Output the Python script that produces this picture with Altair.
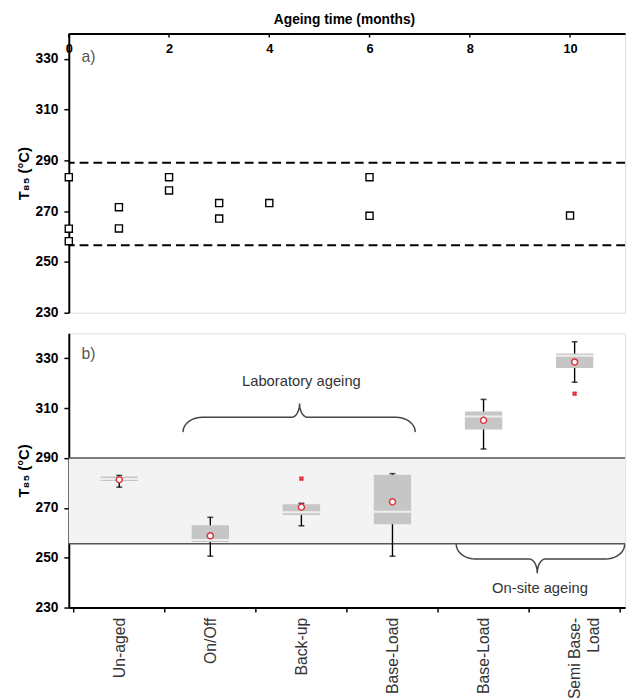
import math
import altair as alt
import pandas as pd

# ---------------- data ----------------
# panel a: T85 vs ageing time
months = [0, 0, 0, 1, 1, 2, 2, 3, 3, 4, 6, 6, 10]
t85 = [283.4, 263.1, 258.2, 271.6, 263.2, 283.4, 278.2, 273.2, 267.1, 273.2, 283.4, 268.2, 268.3]
limits_a = [289.1, 256.6]
month_ticks = [0, 2, 4, 6, 8, 10]

# panel b: box statistics per ageing type
categories = ["Un-aged", "On/Off", "Back-up", "Base-Load", "Base-Load", "Semi Base-Load"]
q1 = [280.8, 256.3, 267.1, 263.4, 301.4, 326.1]
median = [281.6, 257.1, 268.2, 268.4, 306.6, 331.0]
q3 = [282.6, 263.0, 271.4, 283.3, 308.6, 331.9]
whisk_lo = [278.3, 250.6, 262.8, 250.6, 293.6, 320.4]
whisk_hi = [283.0, 266.2, 271.8, 283.7, 313.5, 336.6]
means = [281.3, 258.8, 270.3, 272.4, 305.1, 328.5]
outlier_cat = [2, 5]
outlier_val = [281.7, 315.8]
band_b = [255.6, 290.0]

ylim = [230, 340]
y_ticks = [230, 250, 270, 290, 310, 330]

W = 566
H_A = 284
H_B = 279
FONT = "Liberation Sans"
BLACK = "#000000"
RED = "#e0323c"

# ---------------- panel a ----------------
dfa = pd.DataFrame({"m": months, "t": t85})
xa = alt.Scale(domain=[0, W / 51.0], nice=False, zero=False)
ya = alt.Scale(domain=ylim, nice=False, zero=False)


def make_yaxis():
    return alt.Axis(values=y_ticks, title="T₈₅ (°C)", titleFont=FONT, titleFontSize=15,
                    titleFontWeight="bold", titleColor=BLACK, titlePadding=4,
                    labelFont=FONT, labelFontSize=14, labelFontWeight="bold", labelColor=BLACK,
                    labelPadding=6, tickSize=5, tickColor=BLACK, tickWidth=1.5,
                    domainColor=BLACK, domainWidth=2, grid=False)


pts = alt.Chart(dfa).mark_point(shape="square", size=52, filled=False, stroke=BLACK,
                                strokeWidth=1.4, fill="white", fillOpacity=1, opacity=1).encode(
    x=alt.X("m:Q", scale=xa,
            axis=alt.Axis(orient="top", values=month_ticks, format="d", title="Ageing time (months)",
                          titleFont="Liberation Sans Narrow, Liberation Sans", titleFontSize=14,
                          titleFontWeight="bold", titleColor=BLACK, titlePadding=7,
                          titleX=280,
                          labelFont="Liberation Sans Narrow, Liberation Sans", labelFontSize=13,
                          labelFontWeight="bold", labelColor=BLACK, labelPadding=-22,
                          ticks=False, domainColor=BLACK, domainWidth=2, grid=False,
                          labelFlush=False)),
    y=alt.Y("t:Q", scale=ya, axis=make_yaxis()),
)

dfl = pd.DataFrame({"t": limits_a})
dash = alt.Chart(dfl).mark_rule(color=BLACK, strokeWidth=2.2, strokeDash=[9, 5]).encode(
    y=alt.Y("t:Q", scale=ya))

dft = pd.DataFrame({"m": month_ticks})
inticks = alt.Chart(dft).mark_rule(color=BLACK, strokeWidth=1.5).encode(
    x=alt.X("m:Q", scale=xa), y=alt.value(0), y2=alt.value(4))

lab_a = alt.Chart(pd.DataFrame({"s": ["a)"]})).mark_text(
    font=FONT, fontSize=16, color="#555555", align="left", baseline="middle").encode(
    x=alt.value(13), y=alt.value(24), text="s:N")

panel_a = alt.layer(dash, pts, inticks, lab_a).properties(width=W, height=H_A)

# ---------------- panel b ----------------
pos = [i + 0.5 for i in range(len(categories))]
dfb = pd.DataFrame({"pos": pos, "q1": q1, "med": median, "q3": q3,
                    "lo": whisk_lo, "hi": whisk_hi, "mean": means})
xb = alt.Scale(domain=[0, len(categories)], nice=False, zero=False)
yb = alt.Scale(domain=ylim, nice=False, zero=False)

label_arr = []
for c in categories:
    if c == "Semi Base-Load":
        label_arr.append("['Semi Base-','Load']")
    else:
        label_arr.append("'" + c + "'")
label_expr = "[" + ",".join(label_arr) + "][floor(datum.value)]"

xb_axis = alt.Axis(values=pos, labelExpr=label_expr, title=None, ticks=False,
                   labelAngle=-90, labelAlign="right", labelBaseline="middle",
                   labelFont=FONT, labelFontSize=16, labelColor="#333333", labelPadding=10,
                   labelLineHeight=19, domainColor=BLACK, domainWidth=2, grid=False)

band = alt.Chart(pd.DataFrame({"blo": [band_b[0]], "bhi": [band_b[1]]})).mark_rect(
    color="#f3f3f3").encode(y=alt.Y("blo:Q", scale=yb), y2="bhi:Q",
                            x=alt.value(0), x2=alt.value(W))
band_lines = alt.Chart(pd.DataFrame({"bt": band_b})).mark_rule(color="#555555", strokeWidth=1.6).encode(
    y=alt.Y("bt:Q", scale=yb))

whisk = alt.Chart(dfb).mark_rule(color=BLACK, strokeWidth=1.4).encode(
    x=alt.X("pos:Q", scale=xb, axis=xb_axis), y=alt.Y("lo:Q", scale=yb, axis=make_yaxis()), y2="hi:Q")
cap_lo = alt.Chart(dfb).mark_tick(orient="horizontal", size=6, thickness=1.6, color=BLACK).encode(
    x=alt.X("pos:Q", scale=xb), y=alt.Y("lo:Q", scale=yb))
cap_hi = alt.Chart(dfb).mark_tick(orient="horizontal", size=6, thickness=1.6, color=BLACK).encode(
    x=alt.X("pos:Q", scale=xb), y=alt.Y("hi:Q", scale=yb))
box = alt.Chart(dfb).mark_bar(size=38, color="#c6c6c6").encode(
    x=alt.X("pos:Q", scale=xb), y=alt.Y("q1:Q", scale=yb), y2="q3:Q")
med = alt.Chart(dfb).mark_tick(orient="horizontal", size=38, thickness=2, color="white").encode(
    x=alt.X("pos:Q", scale=xb), y=alt.Y("med:Q", scale=yb))
mean_pt = alt.Chart(dfb).mark_point(shape="circle", size=38, filled=False, stroke=RED,
                                    strokeWidth=1.5, fill="white", fillOpacity=1, opacity=1).encode(
    x=alt.X("pos:Q", scale=xb), y=alt.Y("mean:Q", scale=yb))
dfo = pd.DataFrame({"opos": [c + 0.5 for c in outlier_cat], "ov": outlier_val})
outl = alt.Chart(dfo).mark_point(shape="cross", angle=45, size=30, filled=True, color=RED,
                                 opacity=1).encode(x=alt.X("opos:Q", scale=xb), y=alt.Y("ov:Q", scale=yb))

# tick marks at category boundaries (below axis)
dfbt = pd.DataFrame({"bb": list(range(len(categories) + 1))})
bticks = alt.Chart(dfbt).mark_rule(color=BLACK, strokeWidth=1.5).encode(
    x=alt.X("bb:Q", scale=xb), y=alt.value(H_B), y2=alt.value(H_B + 5))


# braces (annotation shapes)
def brace(x0, x1, xtip, y_end, y_mid, y_tip, rx=0.21, rt=0.09, n=10):
    p = []
    for k in range(n + 1):
        t = math.pi / 2 * k / n
        p.append((x0 + rx - rx * math.cos(t), y_end + (y_mid - y_end) * math.sin(t)))
    for k in range(n + 1):
        t = math.pi / 2 * k / n
        p.append((xtip - rt + rt * math.sin(t), y_tip - (y_tip - y_mid) * math.cos(t)))
    for k in range(n + 1):
        t = math.pi / 2 * k / n
        p.append((xtip + rt - rt * math.cos(t), y_tip - (y_tip - y_mid) * math.sin(t)))
    for k in range(n + 1):
        t = math.pi / 2 * k / n
        p.append((x1 - rx + rx * math.sin(t), y_mid - (y_mid - y_end) * (1 - math.cos(t))))
    return p


def brace_df(name, x0, x1, xtip, y_end, y_mid, y_tip):
    p = brace(x0, x1, xtip, y_end, y_mid, y_tip)
    return pd.DataFrame({"g": [name] * len(p), "o": list(range(len(p))),
                         "bx": [a for a, _ in p], "by": [b for _, b in p]})


lab_brace = [1.2, 3.75, 2.48, 300.4, 306.3, 311.8]
site_brace = [4.2, 6.05, 5.09, 255.4, 249.5, 243.8]
dfbr = pd.concat([brace_df("lab", *lab_brace), brace_df("site", *site_brace)], ignore_index=True)
braces = alt.Chart(dfbr).mark_line(color="#444444", strokeWidth=1.5).encode(
    x=alt.X("bx:Q", scale=xb), y=alt.Y("by:Q", scale=yb), detail="g:N", order="o:Q")

ann_text = ["Laboratory ageing", "On-site ageing"]
ann_x = [2.5, 5.12]
ann_y = [320.8, 238.0]
ann = alt.Chart(pd.DataFrame({"s": ann_text, "ax": ann_x, "ay": ann_y})).mark_text(
    font=FONT, fontSize=15, color="#333333", align="center", baseline="middle").encode(
    x=alt.X("ax:Q", scale=xb), y=alt.Y("ay:Q", scale=yb), text="s:N")

lab_b = alt.Chart(pd.DataFrame({"s": ["b)"]})).mark_text(
    font=FONT, fontSize=16, color="#555555", align="left", baseline="middle").encode(
    x=alt.value(13), y=alt.value(21), text="s:N")

panel_b = alt.layer(band, band_lines, whisk, cap_lo, cap_hi, box, med, mean_pt, outl,
                    bticks, braces, ann, lab_b).properties(width=W, height=H_B)

chart = alt.vconcat(panel_a, panel_b, spacing=12).properties(
    padding={"left": 16, "top": 6, "right": 0, "bottom": 0}
).configure_view(stroke=BLACK, strokeWidth=2).configure(background="white")

chart.save("out.html", embed_options={"renderer": "svg", "actions": False})
